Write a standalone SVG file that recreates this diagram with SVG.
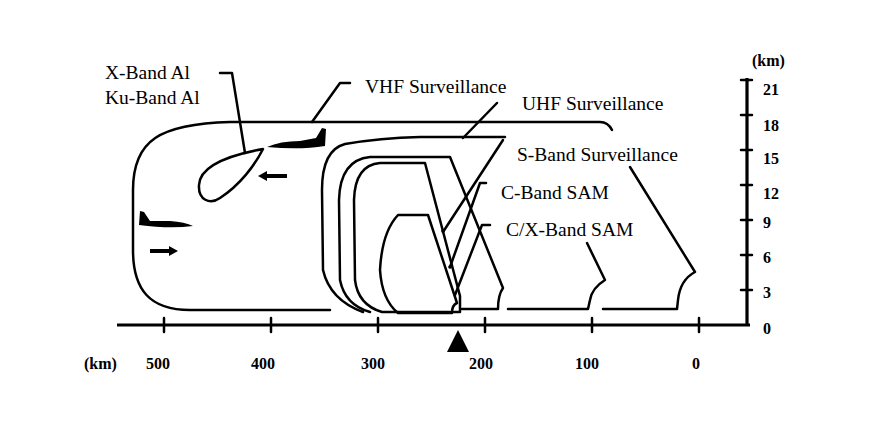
<svg xmlns="http://www.w3.org/2000/svg" width="885" height="429" viewBox="0 0 885 429">
<style>
.l{fill:none;stroke:#000;stroke-width:2.5;stroke-linejoin:round;stroke-linecap:round}
.ax{fill:none;stroke:#000;stroke-width:3.2}
.t{font-family:"Liberation Serif","Times New Roman","DejaVu Serif",serif;font-size:19.5px;fill:#000}
.n{font-family:"Liberation Serif","Times New Roman","DejaVu Serif",serif;font-size:16px;font-weight:bold;fill:#000}
.f{fill:#000}
</style>
<rect width="885" height="429" fill="#fff"/>
<g id="axes">
<path class="ax" d="M117,325 H750 M747,325 V78"/>
<path class="l" d="M164,318 V332 M271,318 V332 M378,318 V332 M485,318 V332 M592,318 V332 M699,318 V332"/>
<path class="l" d="M741,290 H752 M741,255 H752 M741,220 H752 M741,185 H752 M741,150 H752 M741,115 H752 M741,80 H752"/>
<polygon class="f" points="458,330 447,352 469,352"/>
<text class="n" x="84" y="369">(km)</text>
<text class="n" x="146" y="369">500</text>
<text class="n" x="251" y="369">400</text>
<text class="n" x="361" y="369">300</text>
<text class="n" x="469" y="369">200</text>
<text class="n" x="575" y="369">100</text>
<text class="n" x="692" y="369">0</text>
<text class="n" x="752" y="66">(km)</text>
<text class="n" x="763" y="95">21</text>
<text class="n" x="763" y="131">18</text>
<text class="n" x="763" y="164">15</text>
<text class="n" x="763" y="199">12</text>
<text class="n" x="763" y="228">9</text>
<text class="n" x="763" y="263">6</text>
<text class="n" x="763" y="298">3</text>
<text class="n" x="763" y="334">0</text>
</g>
<g id="vhf">
<path class="l" d="M330,310 L190,310 C150,310 133,290 133,250 L133,190 C133,140 160,124 230,122 L600,122 Q608,122 612,130 M630,167 L695,272 Q680,280 678,300 L677,309 L603,309"/>
<text class="t" x="365" y="93">VHF Surveillance</text>
</g>
<g id="uhf">
<path class="l" d="M363,312 Q330,300 323,270 L322,190 Q322,150 345,144 Q380,138 420,137 L505,137 M587,243 L605,280 Q592,288 590,300 L588,309 L508,309"/>
<text class="t" x="522" y="110">UHF Surveillance</text>
</g>
<g id="sband">
<path class="l" d="M370,312 Q345,305 340,280 L339,200 Q340,160 370,157 L450,157 L503,288 Q498,295 498,309 L462,309"/>
<text class="t" x="517" y="161">S-Band Surveillance</text>
</g>
<g id="cband">
<path class="l" d="M382,312 Q358,305 355,280 L354,200 Q355,165 380,163 L425,163 L460,296 L460,312 Z"/>
<text class="t" x="501" y="199">C-Band SAM</text>
</g>
<g id="cxband">
<path class="l" d="M398,313 Q382,300 380,270 Q382,232 398,215 L428,215 L457,303 Q452,305 452,313 Z"/>
<text class="t" x="506" y="236">C/X-Band SAM</text>
</g>
<g id="ai">
<path class="l" d="M263,149 C230,155 200,165 199,185 C198,200 210,205 220,198 C240,185 255,165 263,149 Z"/>
<text class="t" x="105" y="79">X-Band Al</text>
<text class="t" x="105" y="104">Ku-Band Al</text>
</g>
<g id="aircraft">
<path class="f" d="M267,147 Q280,141 300,141 L316,138 L322,128 L326,129 L325,146 Q300,150 267,147 Z"/>
<path class="f" d="M139,225 L140,211 L144,212 L150,221 L170,221 Q185,222 193,226 Q170,229 139,225 Z"/>
<path class="f" d="M258,176 L267,171 L267,174 L287,174 L287,178 L267,178 L267,181 Z"/>
<path class="f" d="M178,251 L169,246 L169,249 L150,249 L150,253 L169,253 L169,256 Z"/>
</g>
<g id="connectors">
<path class="l" d="M312,122 L340,83 L350,83"/>
<path class="l" d="M463,138 L497,103"/>
<path class="l" d="M220,73 L232,73 L245,153"/>
<path class="l" d="M443,232 L503,140"/>
<path class="l" d="M450,267 L480,183 L486,183"/>
<path class="l" d="M455,295 L482,225 L490,225"/>
<circle class="f" cx="443" cy="231" r="1.8"/>
<circle class="f" cx="450" cy="267" r="1.8"/>
</g>
</svg>
